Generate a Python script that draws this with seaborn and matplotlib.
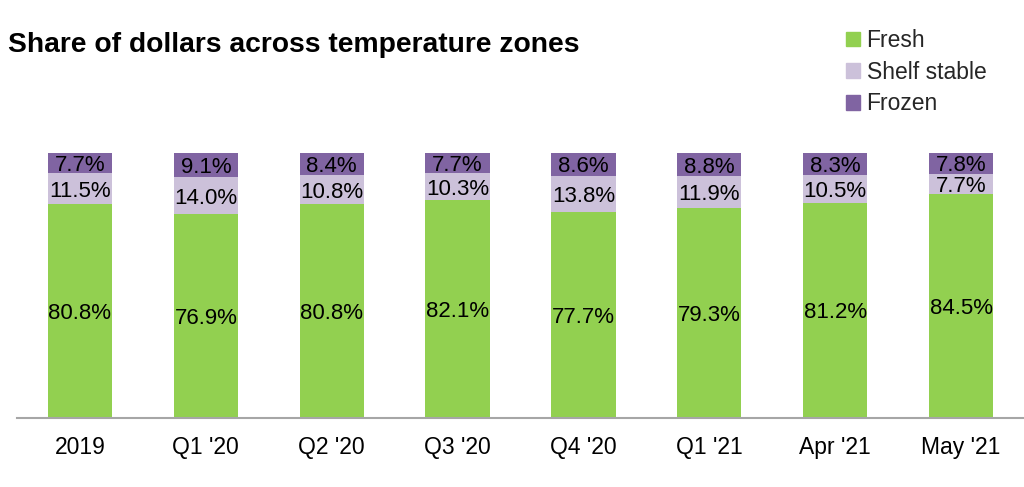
import matplotlib.pyplot as plt
import matplotlib.patches as mpatches
import numpy as np
import pandas as pd
import seaborn as sns

categories = ["2019", "Q1 '20", "Q2 '20", "Q3 '20", "Q4 '20", "Q1 '21", "Apr '21", "May '21"]
fresh = [80.8, 76.9, 80.8, 82.1, 77.7, 79.3, 81.2, 84.5]
shelf_stable = [11.5, 14.0, 10.8, 10.3, 13.8, 11.9, 10.5, 7.7]
frozen = [7.7, 9.1, 8.4, 7.7, 8.6, 8.8, 8.3, 7.8]

colors = {"Fresh": "#92D050", "Shelf stable": "#CCC1DA", "Frozen": "#8064A2"}

sns.set_theme(style="white")
plt.rcParams["font.family"] = ["Liberation Sans", "DejaVu Sans"]

fig = plt.figure(figsize=(10.24, 4.87), dpi=100)
ax = fig.add_axes([17 / 1024, 1 - 418 / 487, 1 - 17 / 1024, (418 - 153) / 487])

df = pd.DataFrame({"cat": categories, "Fresh": fresh, "Shelf stable": shelf_stable, "Frozen": frozen})
bottom = np.zeros(len(categories))
for name in ["Fresh", "Shelf stable", "Frozen"]:
    vals = df[name].to_numpy()
    sns.barplot(data=df, x="cat", y=name, bottom=bottom, color=colors[name],
                width=0.51, saturation=1, ax=ax, linewidth=0)
    for i, v in enumerate(vals):
        ax.text(i, bottom[i] + v / 2, f"{v:.1f}%", ha="center", va="center_baseline",
                fontsize=16, color="#000000")
    bottom = bottom + vals

ax.set_xlim(-0.5, len(categories) - 0.5)
ax.set_ylim(0, 100)
ax.set_xlabel("")
ax.set_ylabel("")
ax.set_yticks([])
ax.tick_params(axis="x", length=0, labelsize=16.5, pad=13, colors="#000000")
for s in ["top", "right", "left"]:
    ax.spines[s].set_visible(False)
ax.spines["bottom"].set_color("#A6A6A6")
ax.spines["bottom"].set_linewidth(1.5)

fig.text(8 / 1024, 1 - 45 / 487, "Share of dollars across temperature zones",
         fontsize=20.3, fontweight="bold", va="center", ha="left", color="#000000")

handles = [mpatches.Patch(color=colors[n], label=n) for n in ["Fresh", "Shelf stable", "Frozen"]]
fig.legend(handles=handles, loc="upper left", bbox_to_anchor=(846 / 1024, 1 - 29 / 487),
           frameon=False, fontsize=16.5, handlelength=0.6, handleheight=0.6,
           handletextpad=0.3, labelspacing=0.38, borderaxespad=0, borderpad=0)

fig.savefig("out.png", dpi=100)
